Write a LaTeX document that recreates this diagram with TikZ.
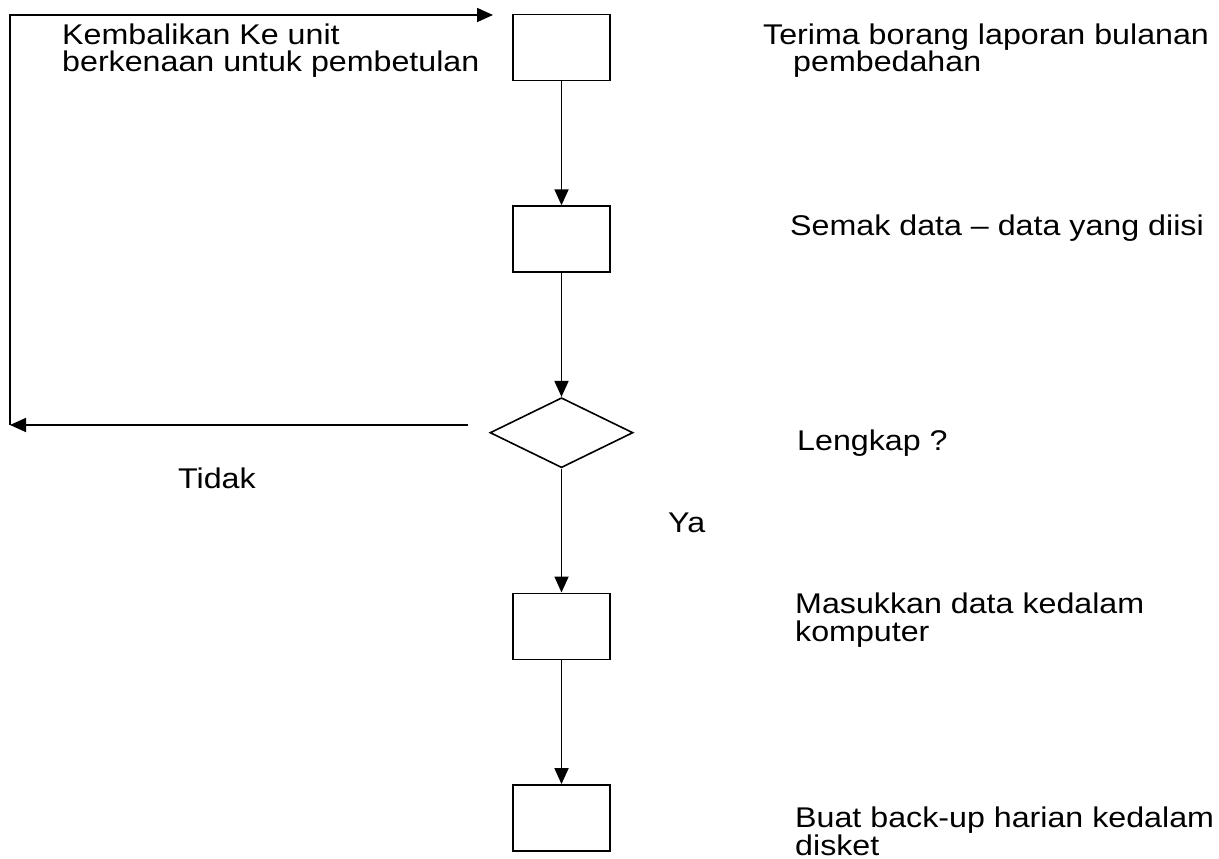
\documentclass[tikz,border=0pt]{standalone}
\usepackage{fontspec}
\setmainfont{Liberation Sans}[FakeStretch=1.13]
\usetikzlibrary{arrows.meta,positioning,shapes.geometric}
\tikzset{
  stepbox/.style={
    draw=black,
    line width=1.6pt,
    minimum width=97pt,
    minimum height=66pt,
    inner sep=0pt
  },
  checkbox/.style={
    draw=black,
    diamond,
    aspect=2,
    line width=1.6pt,
    minimum width=143pt,
    minimum height=70pt,
    inner sep=0pt
  },
  flowarrow/.style={
    -{Triangle[length=16pt,width=14pt]},
    line width=1.8pt
  },
  noteline/.style={
    anchor=base west,
    inner sep=0pt,
    align=left,
    font=\fontsize{28.5}{28}\selectfont
  }
}

\begin{document}
\begin{tikzpicture}[x=1pt,y=-1pt,node distance=124pt]
  \useasboundingbox (0,0) rectangle (1219,859);
  \node[stepbox] (receive) at (561.5,47.5) {};
  \node[stepbox, below=of receive] (check) {};
  \node[checkbox, below=of check] (complete) {};
  \node[stepbox, below=of complete] (enter) {};
  \node[stepbox, below=of enter] (backup) {};
  \coordinate (nostart) at (468,425);
  \coordinate (nocorner) at (10,425);
  \coordinate (backtop) at (10,15);
  \coordinate (backend) at (493,15);
  \draw[flowarrow] (receive) -- (check);
  \draw[flowarrow] (check) -- (complete);
  \draw[flowarrow] (complete) -- (enter);
  \draw[flowarrow] (enter) -- (backup);
  \draw[flowarrow] (nostart) -- (nocorner);
  \draw[flowarrow] (nocorner) -- (backtop) -- (backend);
  \node[noteline] (backnote) at (62,72) {Kembalikan Ke unit\\berkenaan untuk pembetulan};
  \node[noteline] (receivenote) at (763,72) {Terima borang laporan bulanan\\\hspace*{30pt}pembedahan};
  \node[noteline] (checknote) at (790,235) {Semak data -- data yang diisi};
  \node[noteline] (completenote) at (797,450) {Lengkap ?};
  \node[noteline] (nonote) at (178,488) {Tidak};
  \node[noteline] (yesnote) at (668,532) {Ya};
  \node[noteline] (enternote) at (795,641) {Masukkan data kedalam\\komputer};
  \node[noteline] (backupnote) at (795,855) {Buat back-up harian kedalam\\disket};
\end{tikzpicture}
\end{document}
